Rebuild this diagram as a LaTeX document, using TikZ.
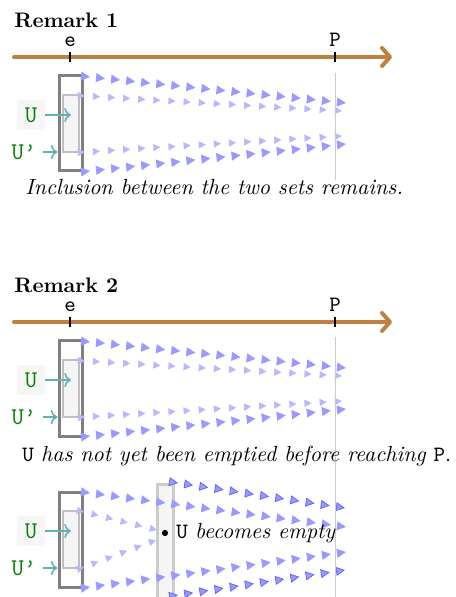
\documentclass[tikz,border=0pt,11pt]{standalone}
\usepackage{xcolor}
\usepackage{tikz}
\usetikzlibrary{arrows.meta, decorations.markings}

\definecolor{axisbrown}{RGB}{192,128,64}
\definecolor{feedteal}{RGB}{102,178,178}

\begin{document}
\begin{tikzpicture}[x=0.5pt, y=-0.5pt, >=To,
    axisline/.style={line width=2pt, draw=axisbrown, line cap=round, -{Straight Barb[round, length=4pt, width=9pt]}},
    marktick/.style={line width=1pt, black},
    outerset/.style={draw=gray, line width=1.5pt, inner sep=0, minimum width=11.5pt, minimum height=47.5pt},
    innerset/.style={draw=gray!50, fill=gray!8, line width=1.2pt, inner sep=0, minimum width=8pt, minimum height=28.5pt},
    setlabel/.style={font=\large\ttfamily, text=green!50!black, inner sep=3pt},
    feed/.style={->, draw=feedteal, line width=0.8pt},
    flowrow/.style n args={3}{decoration={markings, mark=between positions 0 and 1 step #1 with {\arrow{Triangle[length=#2, width=#2, #3]}}}, decorate},
    bigtri/.style={flowrow={#1}{4.5pt}{color=blue!40}},
    smalltri/.style={flowrow={#1}{3.6pt}{color=blue!28}},
    edgetri/.style={flowrow={#1}{4.5pt}{color=blue!60, fill=blue!40}},
  ]
    \useasboundingbox (0,0) rectangle (455,597);

    % Timelines of the two remarks
    \foreach \oy/\n in {0/1, 265/2} {
      \begin{scope}[shift={(0,\oy)}]
        \node[anchor=west, inner sep=0, font=\fontsize{10.5}{12}\selectfont\bfseries] (title\n) at (14,20) {Remark \n};
        \draw[axisline] (14,57) -- (392,57);
        \draw[marktick] (70,62) -- (70,52) node[above, inner sep=2pt, font=\ttfamily] (e\n) {e};
        \draw[marktick] (335,62) -- (335,52) node[above, inner sep=2pt, font=\ttfamily] (p\n) {P};
      \end{scope}
    }

    % Second set, reached in remark 2
    \node[draw=gray!40, fill=gray!8, line width=1.5pt, inner sep=0, minimum width=8pt, minimum height=58pt] (later) at (165,542) {};

    % The two sets U and U'
    \foreach \oy/\n in {0/1, 265/2, 416/3} {
      \begin{scope}[shift={(0,\oy)}]
        \node[outerset] (outer\n) at (70.5,123.5) {};
        \node[innerset] (inner\n) at (71,123.5) {};
        \node[setlabel, fill=gray!7, minimum width=14pt, minimum height=15pt] (ulab\n) at (31,115) {U};
        \node[setlabel] (uplab\n) at (24,152) {U\textquoteright};
        \draw[feed] (ulab\n.east) -- (ulab\n.east -| inner\n.center);
        \draw[feed] (uplab\n.east) -- (outer\n.west |- uplab\n);
      \end{scope}
    }

    % Flows of remarks 1 and 2
    \foreach \oy in {0, 265} {
      \begin{scope}[shift={(0,\oy)}]
        \path[bigtri=0.0588] (90,77) -- (346,103);
        \path[smalltri=0.0588] (85,96) -- (342,111);
        \path[smalltri=0.0588] (85,152) -- (342,136);
        \path[bigtri=0.0588] (90,171) -- (346,144);
      \end{scope}
    }

    % Flow of the last case
    \path[bigtri=0.0588] (90,493) -- (346,527);
    \path[bigtri=0.0588] (90,587) -- (346,552);
    \path[smalltri=0.1999] (84,512) -- (157,530);
    \path[smalltri=0.1999] (84,567) -- (156,540);
    \path[edgetri=0.0909] (178,483) -- (345,508);
    \path[edgetri=0.0909] (178,595) -- (345,570);

    % Position of P
    \draw[gray!40, line width=0.5pt] (335,73) -- (335,180);
    \draw[gray!40, line width=0.5pt] (335,337) -- (335,597);

    % Captions
    \node[anchor=base west, inner sep=0, font=\itshape] (cap1) at (25,195) {Inclusion between the two sets remains.};
    \node[anchor=base west, inner sep=0] (cap2) at (22,461) {\texttt{U} \textit{has not yet been emptied before reaching} \texttt{P}.};
    \node[circle, fill=black, inner sep=1.1pt] (dot) at (165,533) {};
    \node[anchor=base west, inner sep=0] (cap3) at (176,538) {\texttt{U} \textit{becomes empty}};
\end{tikzpicture}
\end{document}
